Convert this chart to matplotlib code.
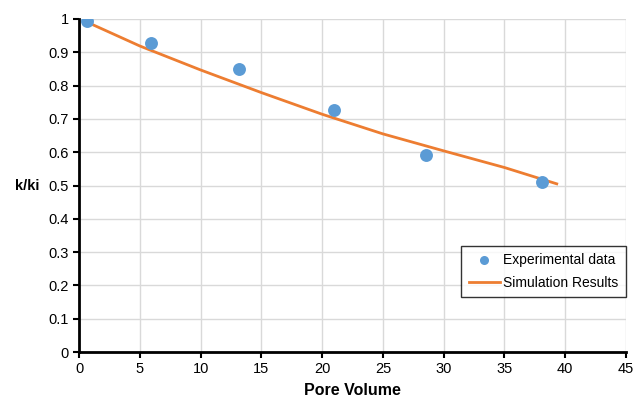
import numpy as np
import matplotlib.pyplot as plt

plt.rcParams['font.family'] = ['Liberation Sans', 'DejaVu Sans']

# experimental points
pv_exp = [0.68, 5.9, 13.2, 21.0, 28.55, 38.1]
k_exp = [0.993, 0.929, 0.849, 0.727, 0.592, 0.512]

# simulation curve
pv_sim = [0.7, 5, 10, 15, 20, 25, 30, 35, 39.3]
k_sim = [0.99, 0.919, 0.847, 0.779, 0.714, 0.655, 0.604, 0.554, 0.505]

fig = plt.figure(figsize=(6.44, 4.0), dpi=100)
ax = fig.add_axes([0.1227, 0.12, 0.8494, 0.8325])

ax.plot(pv_exp, k_exp, 'o', color='#5B9BD5', markersize=9.3, markeredgewidth=0,
        label='Experimental data', zorder=3)
ax.plot(pv_sim, k_sim, '-', color='#ED7D31', linewidth=2, label='Simulation Results', zorder=2)

ax.set_xlim(0, 45)
ax.set_ylim(0, 1)
ax.set_xticks(np.arange(0, 46, 5))
ax.set_yticks(np.arange(0, 1.01, 0.1))
ax.set_yticklabels(['0', '0.1', '0.2', '0.3', '0.4', '0.5', '0.6', '0.7', '0.8', '0.9', '1'])
ax.grid(True, color='#d9d9d9', linewidth=1)
ax.set_axisbelow(True)

for s in ['top', 'right']:
    ax.spines[s].set_visible(False)
for s in ['left', 'bottom']:
    ax.spines[s].set_linewidth(2)
    ax.spines[s].set_color('black')
ax.tick_params(direction='out', length=4, width=1.5, labelsize=10.5, colors='black')

ax.set_xlabel('Pore Volume', fontweight='bold', fontsize=11.5, labelpad=5)
ax.set_ylabel('k/ki', fontweight='bold', fontsize=10.5, rotation=0, labelpad=15, va='center')

leg = ax.legend(loc='lower right', bbox_to_anchor=(1.0, 0.164), borderaxespad=0,
                fontsize=10, frameon=True, fancybox=False, edgecolor='black',
                handlelength=2.2, handletextpad=0.25, borderpad=0.55, labelspacing=0.6,
                markerscale=0.7)
leg.get_frame().set_linewidth(1)

fig.savefig('out.png', dpi=100)
